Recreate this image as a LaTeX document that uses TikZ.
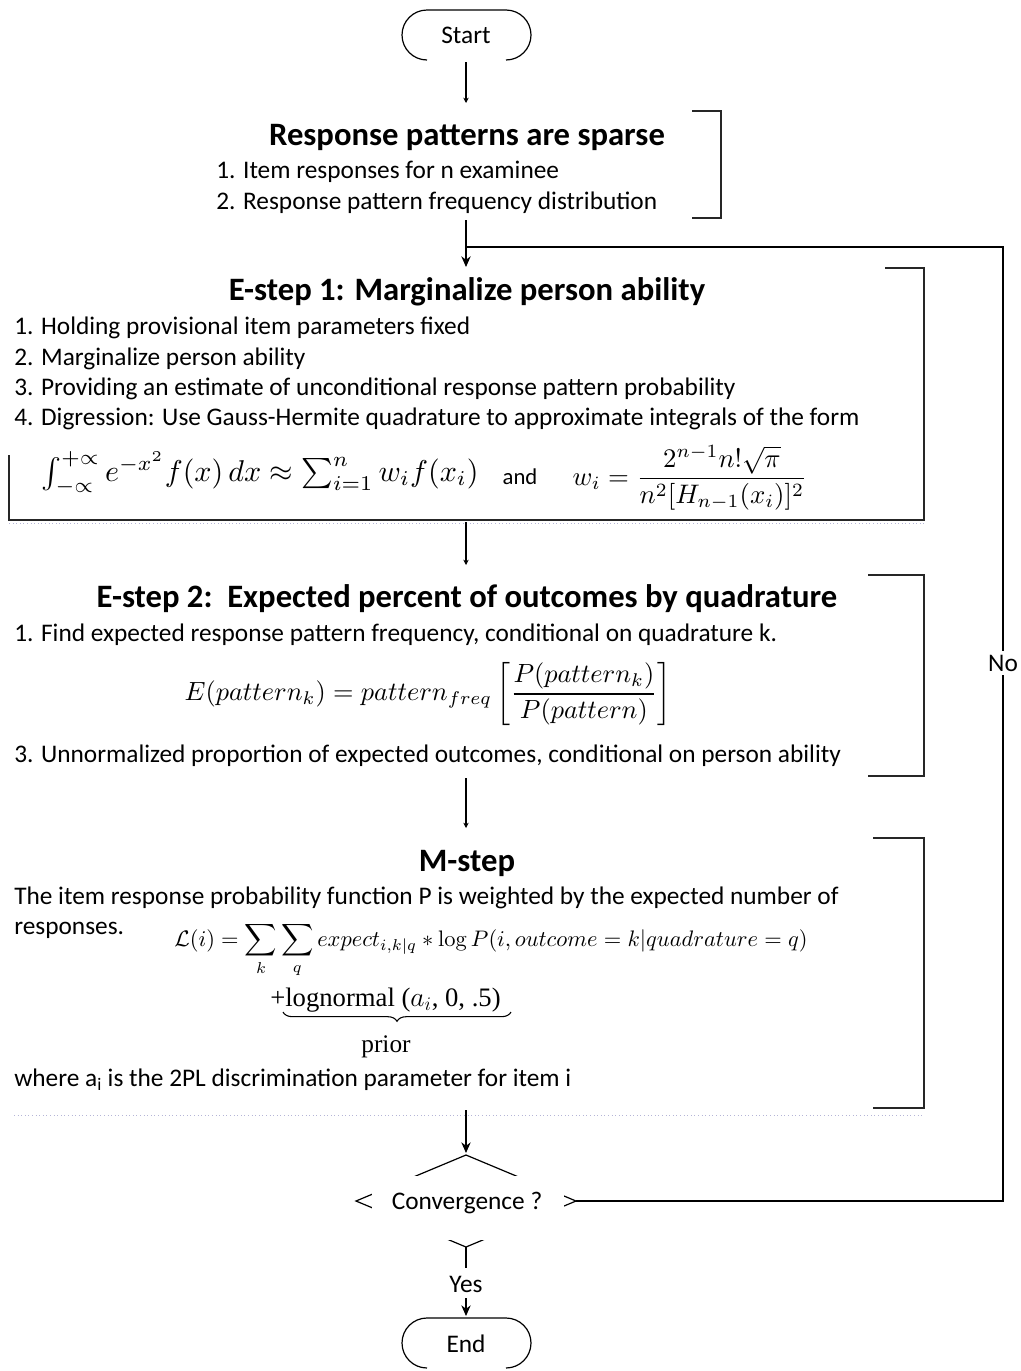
\documentclass[tikz,border=0pt]{standalone}
\usepackage[no-math]{fontspec}
\setmainfont{Carlito}
\newfontfamily\timesfont{Liberation Serif}
\usepackage{amsmath}
\usetikzlibrary{arrows.meta,decorations.pathreplacing}
\begin{document}
\begin{tikzpicture}[x=0.75pt,y=-0.75pt,
  every node/.style={inner sep=0pt},
  body/.style={font=\fontsize{19}{22}\selectfont, anchor=base west},
  ctext/.style={font=\fontsize{19}{22}\selectfont, anchor=base},
  ttl/.style={font=\fontsize{24.5}{28}\selectfont\bfseries, anchor=base},
  frame/.style={line width=1.2pt, black!85},
  conn/.style={line width=0.9pt},
  bigarrow/.style={conn, -{Stealth[length=8pt,width=7pt]}},
  smallarrow/.style={conn, -{Stealth[length=4pt,width=4pt]}},
  faint/.style={dotted, line width=0.7pt, blue!30!gray!45}]
\useasboundingbox (0,0) rectangle (1021,1371);

% ---------- Start ----------
\node[ctext] (start) at (466,43) {Start};
\draw[conn, rounded corners=18.75pt] (427,60) -- (402,60) -- (402,10) -- (531,10) -- (531,60) -- (506,60);
\coordinate (startb) at (466,62);

% ---------- Response patterns ----------
\coordinate (respin) at (466,103);
\node[ttl] (resp) at (467,145) {Response patterns are sparse};
\node[body] (r1) at (216,178) {1. Item responses for n examinee};
\node[body] (r2) at (216,209) {2. Response pattern frequency distribution};
\draw[frame] (692,111) -- (721,111) -- (721,218) -- (692,218);
\coordinate (respout) at (466,220);

% ---------- E-step 1 ----------
\coordinate (join) at (466,247);
\coordinate (e1in) at (466,267);
\node[ttl] (e1) at (467,300) {E-step 1: Marginalize person ability};
\node[body] (e1a) at (14,334) {1. Holding provisional item parameters fixed};
\node[body] (e1b) at (14,365) {2. Marginalize person ability};
\node[body] (e1c) at (14,395) {3. Providing an estimate of unconditional response pattern probability};
\node[body] (e1d) at (14,425) {4. Digression: Use Gauss-Hermite quadrature to approximate integrals of the form};
\node (gh) at (260,473) {\resizebox{328pt}{!}{$\textstyle\int_{-\propto}^{+\propto} e^{-x^2} f(x)\,dx \approx \sum_{i=1}^{n} w_i f(x_i)$}};
\node[font=\fontsize{17}{20}\selectfont] (and) at (520,477) {and};
\node (wi) at (690,478) {\resizebox{176pt}{!}{$w_i = \dfrac{2^{n-1}n!\sqrt{\pi}}{n^2[H_{n-1}(x_i)]^2}$}};
\draw[frame] (885,268) -- (924,268) -- (924,520) -- (9,520) -- (9,455);
\draw[faint] (9,523) -- (924,523);
\coordinate (e1out) at (466,522);

% ---------- E-step 2 ----------
\coordinate (e2in) at (466,565);
\node[ttl] (e2) at (467,607) {E-step 2:\ \ Expected percent of outcomes by quadrature};
\node[body] (e2a) at (14,641) {1. Find expected response pattern frequency, conditional on quadrature k.};
\node (epat) at (428,694) {\resizebox{365pt}{!}{$E(pattern_k) = pattern_{freq}\left[\dfrac{P(pattern_k)}{P(pattern)}\right]$}};
\node[body] (e2c) at (14,762) {3. Unnormalized proportion of expected outcomes, conditional on person ability};
\draw[frame] (868,575) -- (924,575) -- (924,776) -- (868,776);
\coordinate (e2out) at (466,778);

% ---------- M-step ----------
\coordinate (min) at (466,828);
\node[ttl] (ms) at (467,871) {M-step};
\node[body] (m1) at (14,904) {The item response probability function P is weighted by the expected number of};
\node[body] (m2) at (14,934) {responses.};
\node (lik) at (491,950) {\resizebox{475pt}{!}{$\displaystyle \mathcal{L}(i) = \sum_{k}\sum_{q} expect_{i,k|q} * \log P(i, outcome = k|quadrature = q)$}};
\node[anchor=base west, font=\timesfont\fontsize{20}{23}\selectfont] (logn) at (270,1006) {+lognormal ($a_i$, 0, .5)};
\draw[conn, line width=0.8pt, decorate, decoration={brace, mirror, amplitude=7pt}] (283,1012) -- (511,1012);
\node[anchor=base, font=\timesfont\fontsize{19}{22}\selectfont] (prior) at (386,1052) {prior};
\node[body] (m3) at (14,1086) {where a\textsubscript{i} is the 2PL discrimination parameter for item i};
\draw[frame] (873,838) -- (924,838) -- (924,1108) -- (873,1108);
\draw[faint] (14,1115) -- (924,1115);
\coordinate (mout) at (466,1110);

% ---------- Convergence ----------
\coordinate (ctop) at (466,1153);
\draw[conn] (466,1155) -- (356,1201) -- (466,1247) -- (576,1201) -- cycle;
\fill[white] (372,1176) rectangle (564,1240);
\node[ctext] (conv) at (467,1209) {Convergence ?};
\coordinate (cright) at (576,1201);
\coordinate (cbot) at (466,1247);
\coordinate (yesin) at (466,1268);
\node[ctext] (yes) at (466,1292) {Yes};
\coordinate (yesout) at (466,1298);

% ---------- End ----------
\coordinate (endin) at (466,1316);
\node[ctext] (end) at (466,1352) {End};
\draw[conn, rounded corners=18.75pt] (427,1368) -- (402,1368) -- (402,1318) -- (531,1318) -- (531,1368) -- (506,1368);

% ---------- connectors ----------
\draw[smallarrow] (startb) -- (respin);
\draw[bigarrow] (respout) -- (e1in);
\draw[smallarrow] (e1out) -- (e2in);
\draw[smallarrow] (e2out) -- (min);
\draw[bigarrow] (mout) -- (ctop);
\draw[conn] (cbot) -- (yesin);
\draw[bigarrow] (yesout) -- (endin);
\coordinate (fbr) at (1003,1201);
\coordinate (fbt) at (1003,247);
\draw[conn] (cright) -- (fbr) -- (fbt) -- (join);
\node[ctext, fill=white, inner ysep=3pt] (no) at (1003,671) {No};
\end{tikzpicture}
\end{document}
